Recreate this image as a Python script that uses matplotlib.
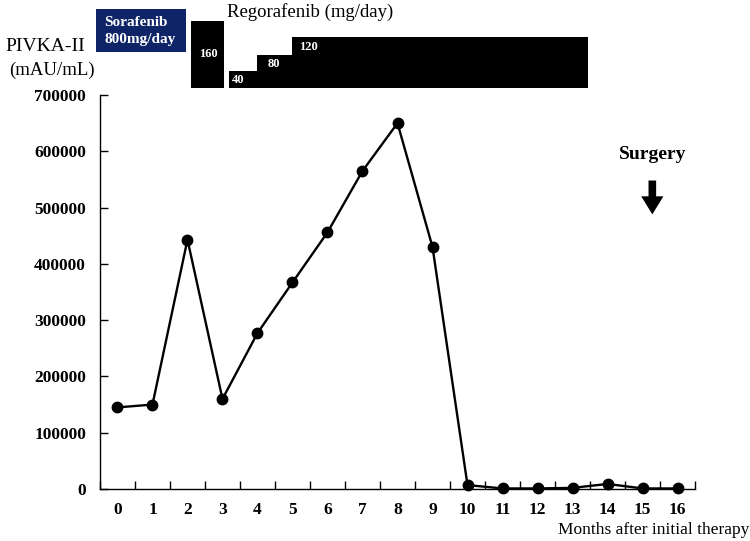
import numpy as np
import matplotlib
matplotlib.use('Agg')
import matplotlib.pyplot as plt
from matplotlib.patches import Rectangle
import matplotlib.transforms as mtransforms

plt.rcParams['font.family'] = ['Liberation Serif', 'DejaVu Serif']

months = np.arange(17)
pivka = [145000, 150000, 443000, 160000, 277000, 367000, 456000, 565000, 650000,
         430000, 7000, 1000, 1000, 2000, 9000, 1000, 1000]

# regorafenib dose periods (start month, end month, dose)
rego_start = [2.1, 3.2, 4.0, 5.0]
rego_end = [3.03, 4.0, 5.0, 13.45]
rego_dose = [160, 40, 80, 120]
sora_start, sora_end = -0.6, 1.97
surgery_month = 15.28

fig = plt.figure(figsize=(7.5, 5.41), dpi=100)
ax = fig.add_axes([0.1333, 0.0961, 0.7934, 0.7283])

ax.plot(months, pivka, color='black', lw=1.7, marker='o', ms=7.5, zorder=3, clip_on=False)

ax.set_xlim(-0.5, 16.5)
ax.set_ylim(0, 700000)
ax.set_yticks(np.arange(0, 700001, 100000))
ax.set_yticklabels([str(v) for v in range(0, 700001, 100000)], fontweight='bold', fontsize=12.5)
ax.set_xticks(months)
ax.set_xticklabels([str(m) for m in months], fontweight='bold', fontsize=12.5)
ax.set_xticks(np.arange(-0.5, 16.6, 1), minor=True)
ax.tick_params(axis='x', which='major', length=0, pad=9)
ax.tick_params(axis='x', which='minor', direction='in', length=6, width=1)
ax.tick_params(axis='y', direction='in', length=6, width=1, pad=10)
for s in ['top', 'right']:
    ax.spines[s].set_visible(False)
for s in ['left', 'bottom']:
    ax.spines[s].set_linewidth(1)

# therapy bars above the plot
trans = mtransforms.blended_transform_factory(ax.transData, ax.transAxes)
base = 1.018
heights = {160: 0.17, 40: 0.043, 80: 0.084, 120: 0.129}
label_dx = {160: 0.22, 40: 0.08, 80: 0.3, 120: 0.2}
for s, e, d in zip(rego_start, rego_end, rego_dose):
    h = heights[d]
    ax.add_patch(Rectangle((s, base), e - s, h, transform=trans, facecolor='black',
                           edgecolor='none', clip_on=False))
    if d == 160:
        y = base + h * 0.5
    else:
        y = base + h - 0.024
    ax.text(s + label_dx[d], y, str(d), transform=trans, color='white',
            fontsize=9, fontweight='bold', ha='left', va='center')

ax.add_patch(Rectangle((sora_start, 1.109), sora_end - sora_start, 0.109, transform=trans,
                       facecolor='#0f2466', edgecolor='none', clip_on=False))
ax.text(sora_start + 0.22, 1.162, 'Sorafenib\n800mg/day', transform=trans, color='white',
        fontsize=11, fontweight='bold', ha='left', va='center', linespacing=1.4)

fig.text(0.413, 0.978, 'Regorafenib (mg/day)', fontsize=13.5, ha='center', va='center')
fig.text(0.060, 0.914, 'PIVKA-II', fontsize=14, ha='center', va='center')
fig.text(0.069, 0.870, '(mAU/mL)', fontsize=13.5, ha='center', va='center')
fig.text(0.999, 0.020, 'Months after initial therapy', fontsize=12.5, ha='right', va='center')

# surgery
ax.text(surgery_month, 594000, 'Surgery', fontsize=14, fontweight='bold', ha='center', va='center')
ax.annotate('', xy=(surgery_month, 483000), xytext=(surgery_month, 553000),
            arrowprops=dict(arrowstyle='simple,head_width=1.6,head_length=1.3,tail_width=0.55',
                            color='black', lw=0))

fig.savefig('out.png', dpi=100)
